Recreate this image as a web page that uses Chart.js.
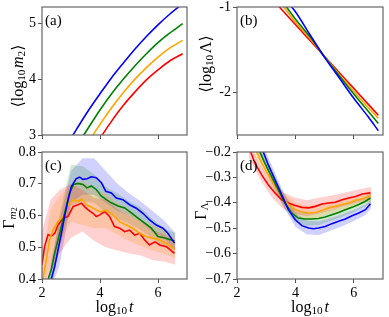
<!DOCTYPE html>
<html>
<head>
<meta charset="UTF-8">
<script src="https://cdn.jsdelivr.net/npm/chart.js@4.4.0/dist/chart.umd.min.js"></script>
<style>
  body { margin: 0; background: #fff; }
  #wrap { position: relative; width: 389px; height: 317px; overflow: hidden; }
  canvas { position: absolute; }
</style>
</head>
<body>
<div id="wrap">
  <canvas id="pa" width="195" height="145" style="left:0;top:0"></canvas>
  <canvas id="pb" width="199" height="145" style="left:190px;top:0"></canvas>
  <canvas id="pc" width="195" height="172" style="left:0;top:145px"></canvas>
  <canvas id="pd" width="199" height="172" style="left:190px;top:145px"></canvas>
</div>
<script>
// ---- data ----
const xTicks = [2, 4, 6];
const xTickLabels = ['2', '4', '6'];

// (a) <log10 m2>
const aX = [2.8, 3.2, 3.6, 4.0, 4.4, 4.8, 5.2, 5.6, 6.0, 6.4, 6.85];
const aRed    = [1.84, 2.24, 2.61, 2.94, 3.25, 3.53, 3.77, 3.99, 4.17, 4.33, 4.46];
const aOrange = [2.14, 2.52, 2.87, 3.19, 3.49, 3.76, 4.00, 4.21, 4.40, 4.56, 4.70];
const aGreen  = [2.44, 2.80, 3.13, 3.45, 3.74, 4.00, 4.24, 4.46, 4.66, 4.83, 5.00];
const aBlue   = [2.77, 3.11, 3.44, 3.74, 4.03, 4.29, 4.54, 4.77, 4.98, 5.17, 5.36];
const aYTicks = [3, 4, 5];
const aYLabels = ['3', '4', '5'];

// (b) <log10 Lambda>
const bX = [3.3, 3.6, 4.0, 4.5, 5.0, 5.5, 6.0, 6.5, 6.84];
const bRed    = [-0.944, -1.056, -1.206, -1.393, -1.58, -1.767, -1.954, -2.141, -2.268];
const bOrange = [-0.88, -1.0, -1.175, -1.37, -1.582, -1.79, -1.99, -2.18, -2.305];
const bGreen  = [-0.82, -0.955, -1.14, -1.35, -1.585, -1.805, -2.02, -2.225, -2.364];
const bBlue   = [-0.73, -0.89, -1.055, -1.325, -1.59, -1.83, -2.07, -2.29, -2.45];
const bYTicks = [-2, -1];
const bYLabels = ['-2', '-1'];

// (c) Gamma_m2
const cRedX = [2.0, 2.09, 2.21, 2.32, 2.44, 2.55, 2.72, 2.9, 3.07, 3.24, 3.36, 3.47, 3.59, 3.76, 3.87, 3.99, 4.16, 4.33, 4.5, 4.68, 4.85, 5.02, 5.2, 5.37, 5.54, 5.71, 5.89, 6.06, 6.29, 6.57];
const cRed  = [0.445, 0.503, 0.54, 0.535, 0.544, 0.57, 0.591, 0.597, 0.628, 0.634, 0.639, 0.628, 0.618, 0.607, 0.597, 0.602, 0.612, 0.597, 0.565, 0.56, 0.549, 0.554, 0.538, 0.544, 0.523, 0.507, 0.517, 0.507, 0.502, 0.481];
const cOrangeX = [2.03, 2.15, 2.26, 2.38, 2.55, 2.72, 2.9, 3.07, 3.24, 3.36, 3.53, 3.76, 3.99, 4.22, 4.45, 4.68, 4.91, 5.14, 5.37, 5.6, 5.83, 6.06, 6.29, 6.57];
const cOrange  = [0.40, 0.46, 0.523, 0.555, 0.581, 0.597, 0.634, 0.65, 0.644, 0.652, 0.634, 0.623, 0.612, 0.617, 0.601, 0.58, 0.57, 0.559, 0.544, 0.533, 0.528, 0.523, 0.512, 0.494];
const cGreenX = [2.21, 2.32, 2.44, 2.61, 2.78, 2.95, 3.09, 3.24, 3.41, 3.55, 3.7, 3.87, 4.05, 4.22, 4.39, 4.62, 4.85, 5.08, 5.31, 5.54, 5.77, 6.0, 6.23, 6.57];
const cGreen  = [0.40, 0.43, 0.482, 0.544, 0.607, 0.67, 0.698, 0.701, 0.698, 0.687, 0.693, 0.682, 0.661, 0.65, 0.64, 0.63, 0.624, 0.608, 0.592, 0.576, 0.56, 0.534, 0.529, 0.52];
const cBlueX = [2.32, 2.44, 2.55, 2.67, 2.78, 2.9, 3.01, 3.18, 3.3, 3.41, 3.55, 3.7, 3.87, 4.05, 4.2, 4.39, 4.56, 4.79, 5.02, 5.25, 5.48, 5.71, 5.94, 6.17, 6.34, 6.57];
const cBlue  = [0.40, 0.44, 0.49, 0.544, 0.597, 0.65, 0.69, 0.716, 0.721, 0.714, 0.716, 0.722, 0.719, 0.703, 0.676, 0.671, 0.655, 0.65, 0.634, 0.623, 0.607, 0.586, 0.57, 0.56, 0.544, 0.513];
const cBandX = [2.0, 2.3, 2.6, 3.0, 3.4, 3.8, 4.2, 4.6, 5.0, 5.4, 5.8, 6.2, 6.6];
const cRedLo    = [0.38, 0.42, 0.48, 0.53, 0.55, 0.52, 0.50, 0.49, 0.48, 0.475, 0.46, 0.455, 0.445];
const cRedHi    = [0.55, 0.65, 0.68, 0.70, 0.68, 0.655, 0.65, 0.62, 0.60, 0.58, 0.555, 0.54, 0.52];
const cOrangeLo = [0.35, 0.45, 0.51, 0.58, 0.57, 0.56, 0.56, 0.54, 0.52, 0.505, 0.49, 0.48, 0.465];
const cOrangeHi = [0.45, 0.62, 0.66, 0.70, 0.71, 0.68, 0.67, 0.64, 0.62, 0.59, 0.57, 0.555, 0.53];
const cGreenLo  = [0.25, 0.36, 0.50, 0.63, 0.645, 0.64, 0.61, 0.59, 0.575, 0.555, 0.53, 0.50, 0.49];
const cGreenHi  = [0.30, 0.43, 0.60, 0.76, 0.755, 0.73, 0.69, 0.67, 0.645, 0.625, 0.59, 0.56, 0.545];
const cBlueLo   = [0.20, 0.37, 0.44, 0.64, 0.665, 0.665, 0.64, 0.615, 0.60, 0.58, 0.55, 0.53, 0.49];
const cBlueHi   = [0.26, 0.45, 0.58, 0.74, 0.78, 0.78, 0.74, 0.70, 0.67, 0.645, 0.615, 0.585, 0.545];
const cYTicks = [0.4, 0.5, 0.6, 0.7, 0.8];
const cYLabels = ['0.4', '0.5', '0.6', '0.7', '0.8'];

// (d) Gamma_Lambda
const dRedX = [2.4, 2.47, 2.61, 2.84, 3.07, 3.3, 3.53, 3.76, 3.99, 4.22, 4.45, 4.68, 4.91, 5.14, 5.37, 5.6, 5.83, 6.06, 6.29, 6.57];
const dRed  = [-0.19, -0.2, -0.243, -0.289, -0.329, -0.361, -0.388, -0.401, -0.411, -0.418, -0.42, -0.414, -0.405, -0.401, -0.398, -0.388, -0.381, -0.375, -0.365, -0.361];
const dOrangeX = [2.6, 2.67, 2.84, 3.07, 3.3, 3.53, 3.76, 3.99, 4.22, 4.45, 4.68, 4.91, 5.14, 5.37, 5.6, 5.83, 6.06, 6.29, 6.57];
const dOrange  = [-0.19, -0.2, -0.243, -0.289, -0.335, -0.375, -0.407, -0.427, -0.436, -0.44, -0.438, -0.43, -0.42, -0.414, -0.407, -0.401, -0.39, -0.385, -0.372];
const dGreenX = [2.7, 2.78, 2.95, 3.18, 3.41, 3.64, 3.87, 4.1, 4.33, 4.56, 4.79, 5.02, 5.25, 5.48, 5.71, 5.94, 6.17, 6.4, 6.57];
const dGreen  = [-0.185, -0.2, -0.243, -0.296, -0.348, -0.401, -0.44, -0.46, -0.464, -0.464, -0.462, -0.456, -0.447, -0.438, -0.427, -0.418, -0.407, -0.394, -0.381];
const dBlueX = [2.8, 2.9, 3.07, 3.3, 3.53, 3.76, 3.99, 4.22, 4.45, 4.62, 4.79, 5.02, 5.25, 5.48, 5.71, 5.94, 6.17, 6.4, 6.57];
const dBlue  = [-0.18, -0.2, -0.25, -0.309, -0.368, -0.427, -0.466, -0.49, -0.499, -0.502, -0.499, -0.493, -0.482, -0.473, -0.464, -0.451, -0.44, -0.427, -0.404];
const dBandX = [2.4, 2.8, 3.2, 3.6, 4.0, 4.4, 4.8, 5.2, 5.6, 6.0, 6.4, 6.6];
const dRedLo    = [-0.22, -0.31, -0.38, -0.425, -0.445, -0.452, -0.442, -0.43, -0.415, -0.403, -0.388, -0.383];
const dRedHi    = [-0.16, -0.25, -0.315, -0.36, -0.38, -0.39, -0.38, -0.372, -0.362, -0.352, -0.342, -0.338];
const dOrangeLo = [-0.175, -0.26, -0.34, -0.41, -0.452, -0.465, -0.46, -0.442, -0.43, -0.414, -0.40, -0.393];
const dOrangeHi = [-0.125, -0.21, -0.29, -0.36, -0.40, -0.413, -0.408, -0.395, -0.385, -0.372, -0.36, -0.353];
const dGreenLo  = [-0.145, -0.235, -0.325, -0.42, -0.478, -0.49, -0.487, -0.472, -0.455, -0.437, -0.414, -0.398];
const dGreenHi  = [-0.095, -0.18, -0.275, -0.365, -0.425, -0.44, -0.438, -0.427, -0.41, -0.395, -0.375, -0.36];
const dBlueLo   = [-0.13, -0.21, -0.315, -0.415, -0.495, -0.525, -0.527, -0.51, -0.492, -0.472, -0.448, -0.42];
const dBlueHi   = [-0.07, -0.15, -0.255, -0.36, -0.44, -0.47, -0.473, -0.46, -0.445, -0.428, -0.407, -0.384];
const dYTicks = [-0.7, -0.6, -0.5, -0.4, -0.3, -0.2];
const dYLabels = ['\u22120.7', '\u22120.6', '\u22120.5', '\u22120.4', '\u22120.3', '\u22120.2'];

const RED = '#ff0000', ORANGE = '#ffa500', GREEN = '#008000', BLUE = '#0000ff';
const SERIF = '"Liberation Serif", "DejaVu Serif", serif';

Chart.defaults.font.family = SERIF;
Chart.defaults.font.size = 14;
Chart.defaults.color = '#000';
Chart.defaults.animation = false;

function pts(xs, ys) { return xs.map((x, i) => ({ x: x, y: ys[i] })); }

function line(xs, ys, col, ord, smooth) {
  return {
    data: pts(xs, ys), borderColor: col, borderWidth: 1.6, pointRadius: 0,
    fill: false, order: ord, cubicInterpolationMode: smooth ? 'monotone' : 'default'
  };
}

function band(xs, lo, hi, rgba) {
  return [
    { data: pts(xs, hi), borderWidth: 0, borderColor: 'rgba(0,0,0,0)', pointRadius: 0, fill: false, order: 20 },
    { data: pts(xs, lo), borderWidth: 0, borderColor: 'rgba(0,0,0,0)', pointRadius: 0, fill: '-1', backgroundColor: rgba, order: 20 }
  ];
}

// mixed-style axis titles
function drawRich(ctx, parts, size, cx, cy, rot) {
  ctx.save();
  ctx.translate(cx, cy);
  if (rot) ctx.rotate(-Math.PI / 2);
  const segs = parts.map(p => {
    const s = size * (p.s || 1);
    const font = (p.it ? 'italic ' : '') + s + 'px ' + SERIF;
    ctx.font = font;
    return { t: p.t, font: font, w: ctx.measureText(p.t).width, dy: size * (p.dy || 0) };
  });
  let x = -segs.reduce((a, s) => a + s.w, 0) / 2;
  ctx.textBaseline = 'middle';
  ctx.fillStyle = '#000';
  segs.forEach(s => { ctx.font = s.font; ctx.fillText(s.t, x, s.dy); x += s.w; });
  ctx.restore();
}

const xTitle = [{ t: 'log' }, { t: '10', s: 0.7, dy: 0.22 }, { t: ' ', s: 0.5 }, { t: 't', it: 1 }];

const panels = {
  pa: { tag: '(a)', yPos: [19, 76],
        yTitle: [{ t: '\u27e8log' }, { t: '10', s: 0.7, dy: 0.22 }, { t: ' ', s: 0.4 }, { t: 'm', it: 1 }, { t: '2', s: 0.7, dy: 0.22 }, { t: '\u27e9' }] },
  pb: { tag: '(b)', yPos: [17, 64],
        yTitle: [{ t: '\u27e8log' }, { t: '10', s: 0.7, dy: 0.22 }, { t: ' ', s: 0.4 }, { t: '\u039b' }, { t: '\u27e9' }] },
  pc: { tag: '(c)', yPos: [10, 73], xPos: [114.5, 163],
        yTitle: [{ t: '\u0393' }, { t: 'm', it: 1, s: 0.7, dy: 0.22 }, { t: '2', s: 0.5, dy: 0.32 }] },
  pd: { tag: '(d)', yPos: [12, 66], xPos: [120, 163],
        yTitle: [{ t: '\u0393' }, { t: '\u039b', s: 0.7, dy: 0.22 }] }
};

const panelPlugin = {
  id: 'panel',
  afterDatasetsDraw(chart) {
    const p = panels[chart.canvas.id];
    const ctx = chart.ctx, a = chart.chartArea;
    ctx.save();
    ctx.strokeStyle = '#666';
    ctx.lineWidth = 1.2;
    ctx.strokeRect(a.left, a.top, a.right - a.left, a.bottom - a.top);
    ctx.fillStyle = '#000';
    ctx.font = '15px ' + SERIF;
    ctx.textBaseline = 'middle';
    ctx.textAlign = 'left';
    ctx.fillText(p.tag, a.left + 3, a.top + 14);
    ctx.restore();
    drawRich(ctx, p.yTitle, 16, p.yPos[0], p.yPos[1], true);
    if (p.xPos) drawRich(ctx, xTitle, 16, p.xPos[0], p.xPos[1], false);
  }
};

function makeChart(id, cfg) {
  new Chart(document.getElementById(id), {
    type: 'line',
    data: { datasets: cfg.datasets },
    options: {
      responsive: false,
      layout: { padding: { top: 7, right: cfg.right, left: 0, bottom: 0 } },
      plugins: { legend: { display: false }, tooltip: { enabled: false }, filler: { drawTime: 'beforeDatasetsDraw' } },
      scales: {
        x: {
          type: 'linear', min: 2, max: 7,
          grid: { drawOnChartArea: false, drawTicks: true, tickLength: 4, color: '#555' },
          border: { display: false },
          ticks: { display: cfg.xLabels, padding: 2, maxRotation: 0, callback: v => xTickLabels[xTicks.indexOf(v)] },
          afterBuildTicks: s => { s.ticks = xTicks.map(v => ({ value: v })); },
          afterFit: s => { s.height = cfg.xh; s.paddingLeft = 0; s.paddingRight = 0; }
        },
        y: {
          type: 'linear', min: cfg.yMin, max: cfg.yMax,
          grid: { drawOnChartArea: false, drawTicks: true, tickLength: 4, color: '#555' },
          border: { display: false },
          ticks: { padding: 2, callback: v => cfg.yLabels[cfg.yTicks.indexOf(v)] },
          afterBuildTicks: s => { s.ticks = cfg.yTicks.map(v => ({ value: v })); },
          afterFit: s => { s.width = cfg.yw; s.paddingTop = 0; s.paddingBottom = 0; }
        }
      }
    },
    plugins: [panelPlugin]
  });
}

makeChart('pa', {
  right: 8, yw: 42, xh: 10, xLabels: false, yMin: 3, yMax: 5.3, yTicks: aYTicks, yLabels: aYLabels,
  datasets: [
    line(aX, aRed, RED, 3, true), line(aX, aOrange, ORANGE, 2, true),
    line(aX, aGreen, GREEN, 1, true), line(aX, aBlue, BLUE, 0, true)
  ]
});

makeChart('pb', {
  right: 6, yw: 47, xh: 10, xLabels: false, yMin: -2.5, yMax: -1, yTicks: bYTicks, yLabels: bYLabels,
  datasets: [
    line(bX, bRed, RED, 3, true), line(bX, bOrange, ORANGE, 2, true),
    line(bX, bGreen, GREEN, 1, true), line(bX, bBlue, BLUE, 0, true)
  ]
});

makeChart('pc', {
  right: 8, yw: 42, xh: 38, xLabels: true, yMin: 0.4, yMax: 0.8, yTicks: cYTicks, yLabels: cYLabels,
  datasets: [].concat(
    band(cBandX, cRedLo, cRedHi, 'rgba(255,0,0,0.18)'),
    band(cBandX, cOrangeLo, cOrangeHi, 'rgba(255,165,0,0.2)'),
    band(cBandX, cGreenLo, cGreenHi, 'rgba(0,128,0,0.18)'),
    band(cBandX, cBlueLo, cBlueHi, 'rgba(0,0,255,0.18)'),
    [line(cRedX, cRed, RED, 3), line(cOrangeX, cOrange, ORANGE, 2),
     line(cGreenX, cGreen, GREEN, 1), line(cBlueX, cBlue, BLUE, 0)]
  )
});

makeChart('pd', {
  right: 6, yw: 47, xh: 38, xLabels: true, yMin: -0.7, yMax: -0.2, yTicks: dYTicks, yLabels: dYLabels,
  datasets: [].concat(
    band(dBandX, dRedLo, dRedHi, 'rgba(255,0,0,0.18)'),
    band(dBandX, dOrangeLo, dOrangeHi, 'rgba(255,165,0,0.2)'),
    band(dBandX, dGreenLo, dGreenHi, 'rgba(0,128,0,0.18)'),
    band(dBandX, dBlueLo, dBlueHi, 'rgba(0,0,255,0.18)'),
    [line(dRedX, dRed, RED, 3), line(dOrangeX, dOrange, ORANGE, 2),
     line(dGreenX, dGreen, GREEN, 1), line(dBlueX, dBlue, BLUE, 0)]
  )
});
</script>
</body>
</html>
